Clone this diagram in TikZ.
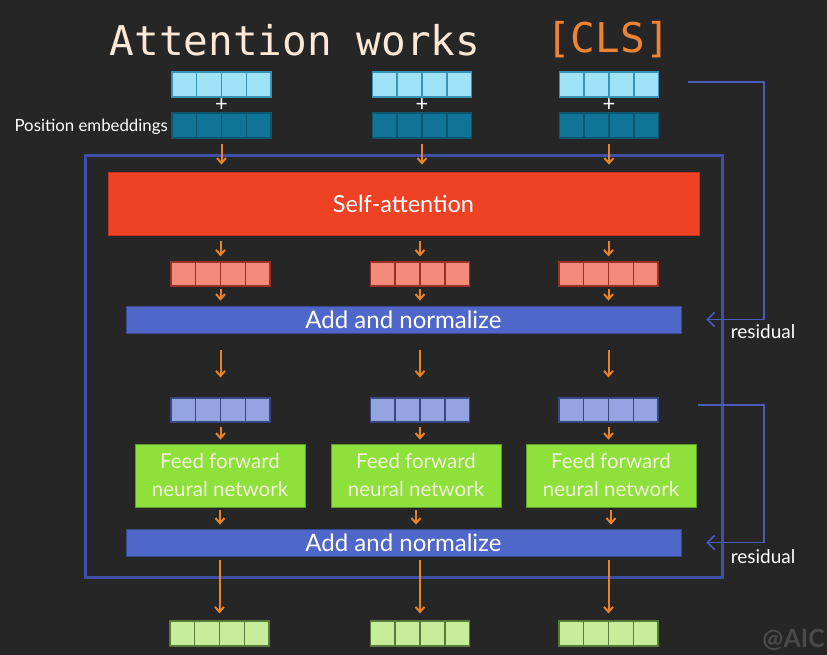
\documentclass[tikz,border=0pt]{standalone}
\usepackage{fontspec}
\setmainfont{Lato}
\newfontfamily\monofnt{DejaVu Sans Mono}
\usetikzlibrary{arrows.meta,calc}
\definecolor{bg}{HTML}{262626}
\definecolor{cream}{HTML}{FCE8D5}
\definecolor{clsorange}{HTML}{EE8433}
\definecolor{lblue}{HTML}{A0E2F8}
\definecolor{lbluebd}{HTML}{3A93B5}
\definecolor{dteal}{HTML}{0F7496}
\definecolor{dtealbd}{HTML}{0B5670}
\definecolor{arrorange}{HTML}{E8832A}
\definecolor{frameblue}{HTML}{3E4FA5}
\definecolor{sared}{HTML}{EF4123}
\definecolor{saredbd}{HTML}{C8301A}
\definecolor{salmon}{HTML}{F38B7C}
\definecolor{salmonbd}{HTML}{9B3125}
\definecolor{anblue}{HTML}{4F67C9}
\definecolor{lav}{HTML}{94A4E2}
\definecolor{lavbd}{HTML}{3A4680}
\definecolor{ffgreen}{HTML}{8EE03B}
\definecolor{fftext}{HTML}{F3F0DA}
\definecolor{lgreen}{HTML}{C6EE9A}
\definecolor{lgreenbd}{HTML}{5A7A3A}
\definecolor{resblue}{HTML}{4A5DB8}
\definecolor{wm}{HTML}{4A4A4A}
\newcommand\cellsplit[2]{\foreach \k in {1,2,3} \draw[#2, line width=1.2bp] ($(#1.south west)!\k/4!(#1.south east)$) -- ($(#1.north west)!\k/4!(#1.north east)$);}
\begin{document}
\begin{tikzpicture}[x=1bp,y=-1bp,
  vecbox/.style={rectangle, minimum width=99bp, minimum height=25bp, inner sep=0pt, line width=1.2bp},
  flow/.style={draw=arrorange, line width=2bp, -{Straight Barb[length=5bp,width=9bp]}},
  bar/.style={rectangle, fill=anblue, draw=anblue!70!black, line width=0.8bp, minimum width=555bp, minimum height=27bp, inner sep=0pt, text=white, font=\fontsize{24bp}{26bp}\selectfont},
  ffbox/.style={rectangle, fill=ffgreen, draw=ffgreen!70!black, line width=0.8bp, minimum width=170bp, minimum height=63bp, inner sep=0pt, text=fftext, align=center, font=\fontsize{20.5bp}{28bp}\selectfont},
  res/.style={draw=resblue, line width=1.6bp, -{Straight Barb[length=7bp,width=14bp]}},
  reslabel/.style={text=white, font=\fontsize{19bp}{22bp}\selectfont, inner sep=0pt},
  plussign/.style={text=white, font=\fontsize{22bp}{22bp}\selectfont, inner sep=0pt}
]
\fill[bg] (0,0) rectangle (827,655);
\useasboundingbox (0,0) rectangle (827,655);

% title
\node[text=cream, font=\monofnt\fontsize{41bp}{41bp}\selectfont, inner sep=0pt] (ttl) at (295,40) {Attention works};
\node[text=clsorange, font=\monofnt\fontsize{41bp}{41bp}\selectfont, inner sep=0pt] (cls) at (608,40) {[CLS]};

% token embeddings
\foreach \n/\x in {1/221.5,2/422,3/609}{
  \node[vecbox, fill=lblue, draw=lbluebd] (e\n) at (\x,84.5) {};
  \cellsplit{e\n}{lbluebd}
  \node[plussign] (p\n) at (\x,105) {+};
  \node[vecbox, fill=dteal, draw=dtealbd] (t\n) at (\x,125.5) {};
  \cellsplit{t\n}{dtealbd}
}
\node[text=white, font=\fontsize{16.8bp}{18bp}\selectfont, anchor=east, inner sep=0pt] (pos) at (168,127) {Position embeddings};

% encoder frame
\draw[frameblue, line width=3bp] (85,155) rectangle (722,577);

% self-attention
\node[rectangle, fill=sared, draw=saredbd, line width=0.8bp, minimum width=591bp, minimum height=63bp, inner sep=0pt, text=white, font=\fontsize{23.5bp}{26bp}\selectfont] (sa) at (403.5,203.5) {Self-attention};

% salmon vectors
\foreach \n/\x in {1/220.5,2/420,3/608.5}{
  \node[vecbox, fill=salmon, draw=salmonbd, minimum height=24bp] (s\n) at (\x,274) {};
  \cellsplit{s\n}{salmonbd}
}
\node[bar] (an1) at (403.5,319.5) {Add and normalize};

% lavender vectors
\foreach \n/\x in {1/220.5,2/420,3/608.5}{
  \node[vecbox, fill=lav, draw=lavbd, minimum height=24bp] (l\n) at (\x,410) {};
  \cellsplit{l\n}{lavbd}
}
\node[ffbox] (f1) at (220,475.5) {Feed forward\\neural network};
\node[ffbox] (f2) at (416,475.5) {Feed forward\\neural network};
\node[ffbox] (f3) at (611,475.5) {Feed forward\\neural network};
\node[bar] (an2) at (403.5,542.5) {Add and normalize};

% outputs
\foreach \n/\x in {1/219.5,2/420,3/608.5}{
  \node[vecbox, fill=lgreen, draw=lgreenbd] (o\n) at (\x,633.5) {};
  \cellsplit{o\n}{lgreenbd}
}

% flow arrows
\foreach \n in {1,2,3}{
  \draw[flow, shorten <=5bp, shorten >=7bp] (t\n.south) -- (t\n.south |- sa.north);
  \draw[flow, shorten <=6bp, shorten >=5bp] (s\n.north |- sa.south) -- (s\n.north);
  \draw[flow, shorten <=2bp, shorten >=5bp] (s\n.south) -- (s\n.south |- an1.north);
  \draw[flow, shorten <=17bp, shorten >=20bp] (l\n.north |- an1.south) -- (l\n.north);
  \draw[flow, shorten <=4bp, shorten >=4bp] (l\n.south) -- (l\n.south |- f\n.north);
  \draw[flow, shorten <=3bp, shorten >=4bp] (f\n.south) -- (f\n.south |- an2.north);
  \draw[flow, shorten <=4bp, shorten >=7bp] (o\n.north |- an2.south) -- (o\n.north);
}

% residual connections
\coordinate (r1s) at (688,82);
\coordinate (r2s) at (698,405);
\draw[res] (r1s) -- (764,82) |- ($(an1.east)+(25,0)$);
\draw[res] (r2s) -- (764,405) |- ($(an2.east)+(25,0)$);
\node[reslabel] (rl1) at (763,332) {residual};
\node[reslabel] (rl2) at (763,557) {residual};

% watermark
\node[text=wm, font=\bfseries\fontsize{25bp}{25bp}\selectfont, anchor=east, inner sep=0pt] (wmk) at (825,640) {@AIC};
\end{tikzpicture}
\end{document}
